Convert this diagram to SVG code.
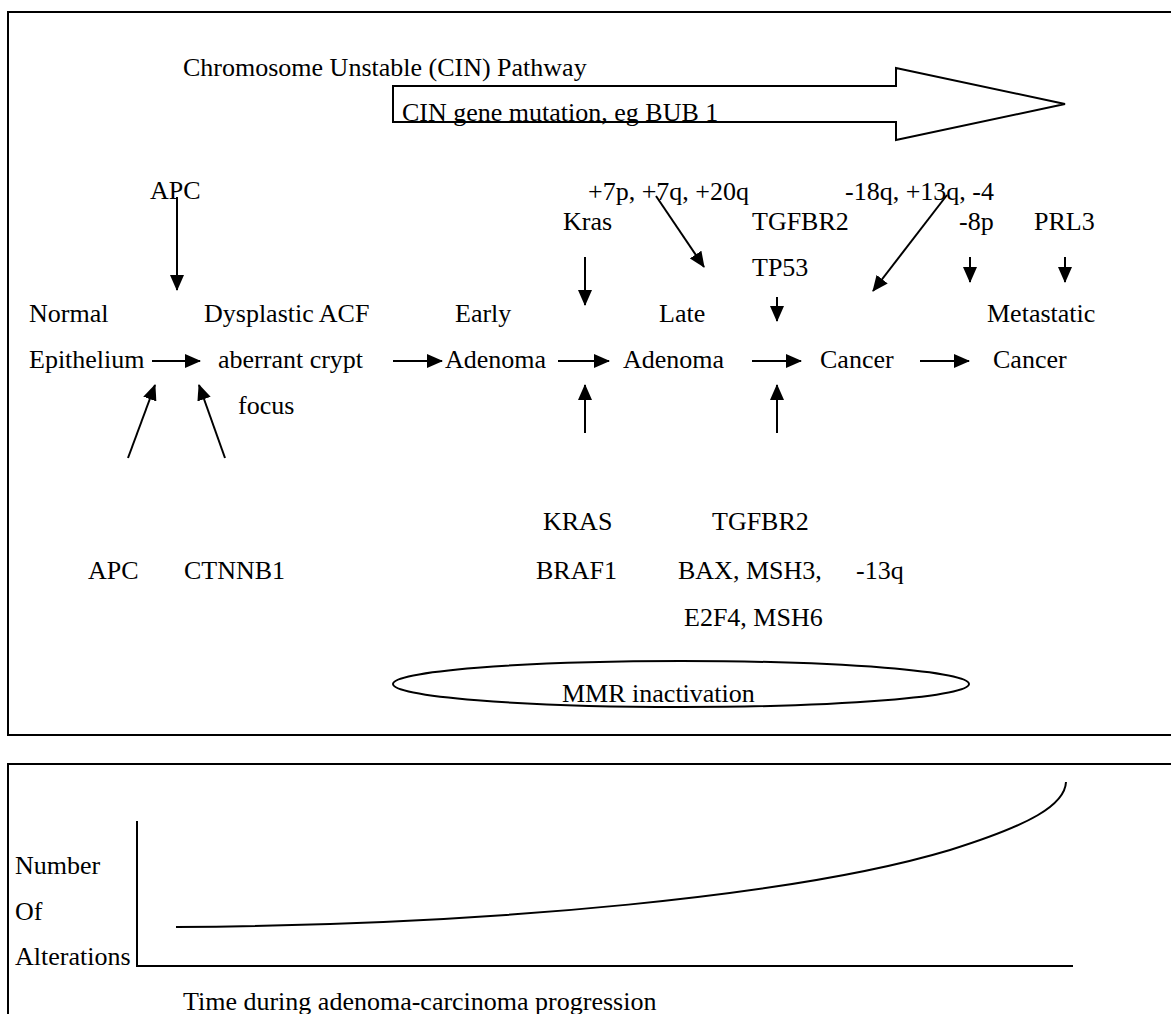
<svg xmlns="http://www.w3.org/2000/svg" width="1171" height="1014" viewBox="0 0 1171 1014">
<style>
text{font-family:"Liberation Serif","Times New Roman",serif;font-size:26px;fill:#000}
.frame{fill:none;stroke:#000;stroke-width:2}
.ln{fill:none;stroke:#000;stroke-width:2}
.ar{fill:none;stroke:#000;stroke-width:2;marker-end:url(#ah)}
</style>
<defs>
<marker id="ah" viewBox="0 0 16 14" refX="15" refY="7" markerWidth="16" markerHeight="14" orient="auto" markerUnits="userSpaceOnUse"><path d="M0,0 L16,7 L0,14 z" fill="#000"/></marker>
</defs>
<rect width="1171" height="1014" fill="#fff"/>
<g id="panel-top"><rect class="frame" x="8" y="12" width="1180" height="723"/></g>
<g id="panel-bottom"><rect class="frame" x="8" y="764" width="1180" height="280"/></g>
<g id="cin-title"><text x="183" y="76">Chromosome Unstable (CIN) Pathway</text></g>
<g id="cin-arrow"><polygon class="ln" points="393,86 896,86 896,68 1065,104 896,140 896,122 393,122"/><text x="402" y="121">CIN gene mutation, eg BUB 1</text></g>
<g id="label-apc-top"><text x="150" y="199">APC</text></g>
<g id="label-chrom-gain"><text x="588" y="200">+7p, +7q, +20q</text></g>
<g id="label-chrom-loss"><text x="845" y="200">-18q, +13q, -4</text></g>
<g id="label-kras"><text x="563" y="230">Kras</text></g>
<g id="label-tgfbr2-top"><text x="752" y="230">TGFBR2</text></g>
<g id="label-8p"><text x="959" y="230">-8p</text></g>
<g id="label-prl3"><text x="1034" y="230">PRL3</text></g>
<g id="label-tp53"><text x="752" y="276">TP53</text></g>
<g id="node-normal"><text x="29" y="322">Normal</text><text x="29" y="368">Epithelium</text></g>
<g id="node-acf"><text x="204" y="322">Dysplastic ACF</text><text x="218" y="368">aberrant crypt</text><text x="238" y="414">focus</text></g>
<g id="node-early"><text x="455" y="322">Early</text><text x="445" y="368">Adenoma</text></g>
<g id="node-late"><text x="659" y="322">Late</text><text x="623" y="368">Adenoma</text></g>
<g id="node-cancer"><text x="820" y="368">Cancer</text></g>
<g id="node-metastatic"><text x="987" y="322">Metastatic</text><text x="993" y="368">Cancer</text></g>
<g id="label-kras-bottom"><text x="543" y="530">KRAS</text><text x="536" y="579">BRAF1</text></g>
<g id="label-mmr-genes"><text x="712" y="530">TGFBR2</text><text x="678" y="579">BAX, MSH3,</text><text x="684" y="626">E2F4, MSH6</text></g>
<g id="label-13q"><text x="856" y="579">-13q</text></g>
<g id="label-apc-bottom"><text x="88" y="579">APC</text><text x="184" y="579">CTNNB1</text></g>
<g id="mmr"><ellipse class="ln" cx="681" cy="684" rx="288" ry="23"/><text x="562" y="702">MMR inactivation</text></g>
<g id="connectors">
<line class="ar" x1="152" y1="361" x2="200" y2="361"/>
<line class="ar" x1="393" y1="361" x2="442" y2="361"/>
<line class="ar" x1="558" y1="361" x2="609" y2="361"/>
<line class="ar" x1="752" y1="361" x2="801" y2="361"/>
<line class="ar" x1="920" y1="361" x2="969" y2="361"/>
<line class="ar" x1="177" y1="197" x2="177" y2="290"/>
<line class="ar" x1="585" y1="257" x2="585" y2="305"/>
<line class="ar" x1="777" y1="297" x2="777" y2="321"/>
<line class="ar" x1="970" y1="257" x2="970" y2="282"/>
<line class="ar" x1="1065" y1="257" x2="1065" y2="282"/>
<line class="ar" x1="656" y1="196" x2="704" y2="267"/>
<line class="ar" x1="947" y1="195" x2="873" y2="291"/>
<line class="ar" x1="128" y1="458" x2="155" y2="385"/>
<line class="ar" x1="225" y1="458" x2="199" y2="385"/>
<line class="ar" x1="585" y1="433" x2="585" y2="385"/>
<line class="ar" x1="777" y1="433" x2="777" y2="385"/>
</g>
<g id="chart">
<line class="ln" x1="137" y1="821" x2="137" y2="966"/>
<line class="ln" x1="136" y1="966" x2="1073" y2="966"/>
<path class="ln" d="M176,927 C500,925 800,895 950,850 C1030,825 1065,805 1066,782"/>
<text x="15" y="874">Number</text>
<text x="15" y="920">Of</text>
<text x="15" y="965">Alterations</text>
<text x="183" y="1010">Time during adenoma-carcinoma progression</text>
</g>
</svg>
